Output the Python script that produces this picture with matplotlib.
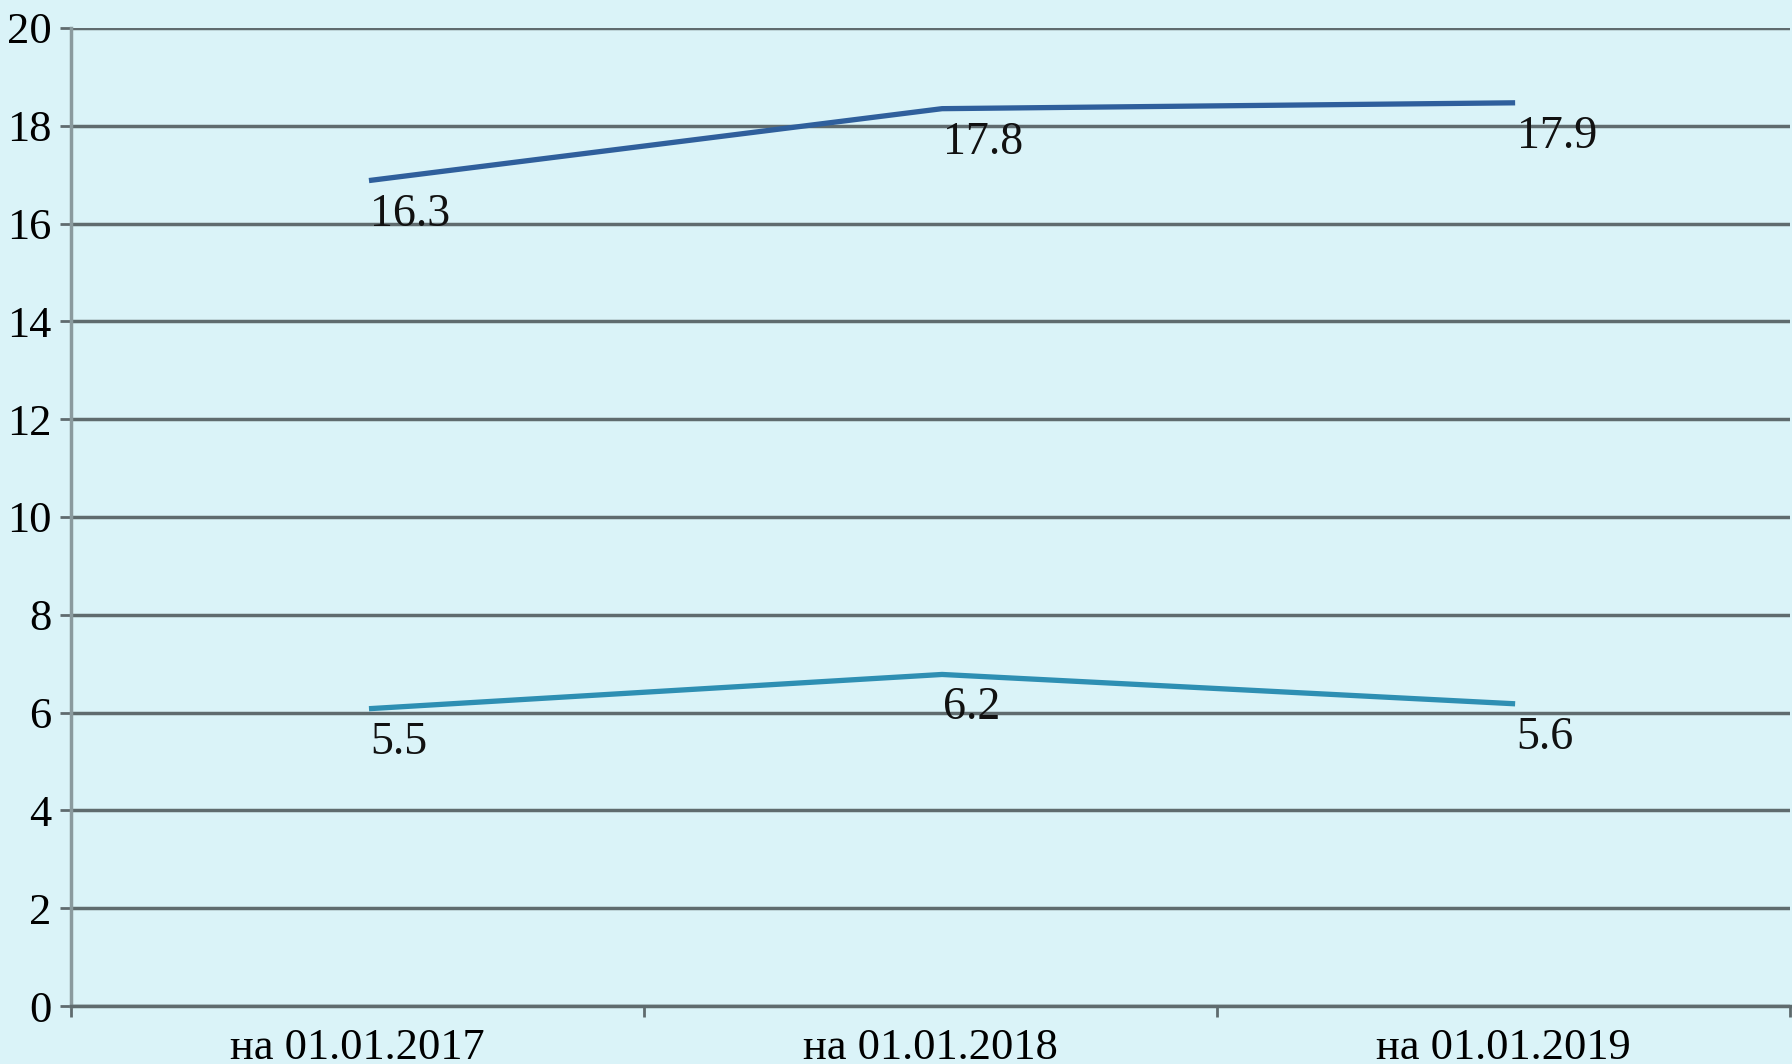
import matplotlib.pyplot as plt
import numpy as np

plt.rcParams['font.family'] = ['Liberation Serif', 'DejaVu Serif']

categories = ['на 01.01.2017', 'на 01.01.2018', 'на 01.01.2019']
# line positions as drawn in the picture, and the printed labels
upper_line = [16.88, 18.35, 18.47]
upper_labels = ['16.3', '17.8', '17.9']
lower_line = [6.08, 6.78, 6.18]
lower_labels = ['5.5', '6.2', '5.6']

bg = '#daf3f8'
grid_col = '#5f6b6e'

fig = plt.figure(figsize=(17.92, 10.64), dpi=100, facecolor=bg)
ax = fig.add_axes([0.0396, 0.0545, 0.9594, 0.9192])
ax.set_facecolor(bg)

x = np.arange(len(categories)) + 0.52
ax.plot(x, upper_line, color='#2f5f9c', lw=3.8, solid_capstyle='butt', zorder=3)
ax.plot(x, lower_line, color='#2e8fb3', lw=3.8, solid_capstyle='butt', zorder=3)

for xs, ys, labs in [(x, upper_line, upper_labels), (x, lower_line, lower_labels)]:
    for xi, yi, t in zip(xs, ys, labs):
        ax.annotate(t, (xi, yi), xytext=(1, -9), textcoords='offset points',
                    ha='left', va='top', fontsize=33, color='#111111')

ax.set_xlim(0, 3)
ax.set_ylim(0, 20)
ax.set_yticks(np.arange(0, 21, 2))
ax.set_xticks([0, 1, 2, 3])
ax.set_xticklabels([])
ax.set_xticks(np.arange(3) + 0.5, minor=True)
ax.set_xticklabels(categories, minor=True)
ax.tick_params(axis='x', which='minor', length=0, pad=16, labelsize=32)
ax.tick_params(axis='x', which='major', length=8, width=2, color=grid_col, direction='out')
ax.tick_params(axis='y', length=8, width=2, color=grid_col, labelsize=32, pad=6)

ax.yaxis.grid(True, color=grid_col, lw=2.5)
ax.set_axisbelow(True)
for s in ['top', 'right']:
    ax.spines[s].set_visible(False)
ax.spines['left'].set_color('#8a9a9e')
ax.spines['left'].set_linewidth(2.5)
ax.spines['bottom'].set_color(grid_col)
ax.spines['bottom'].set_linewidth(2.5)

plt.savefig('out.png', dpi=100, facecolor=bg)
